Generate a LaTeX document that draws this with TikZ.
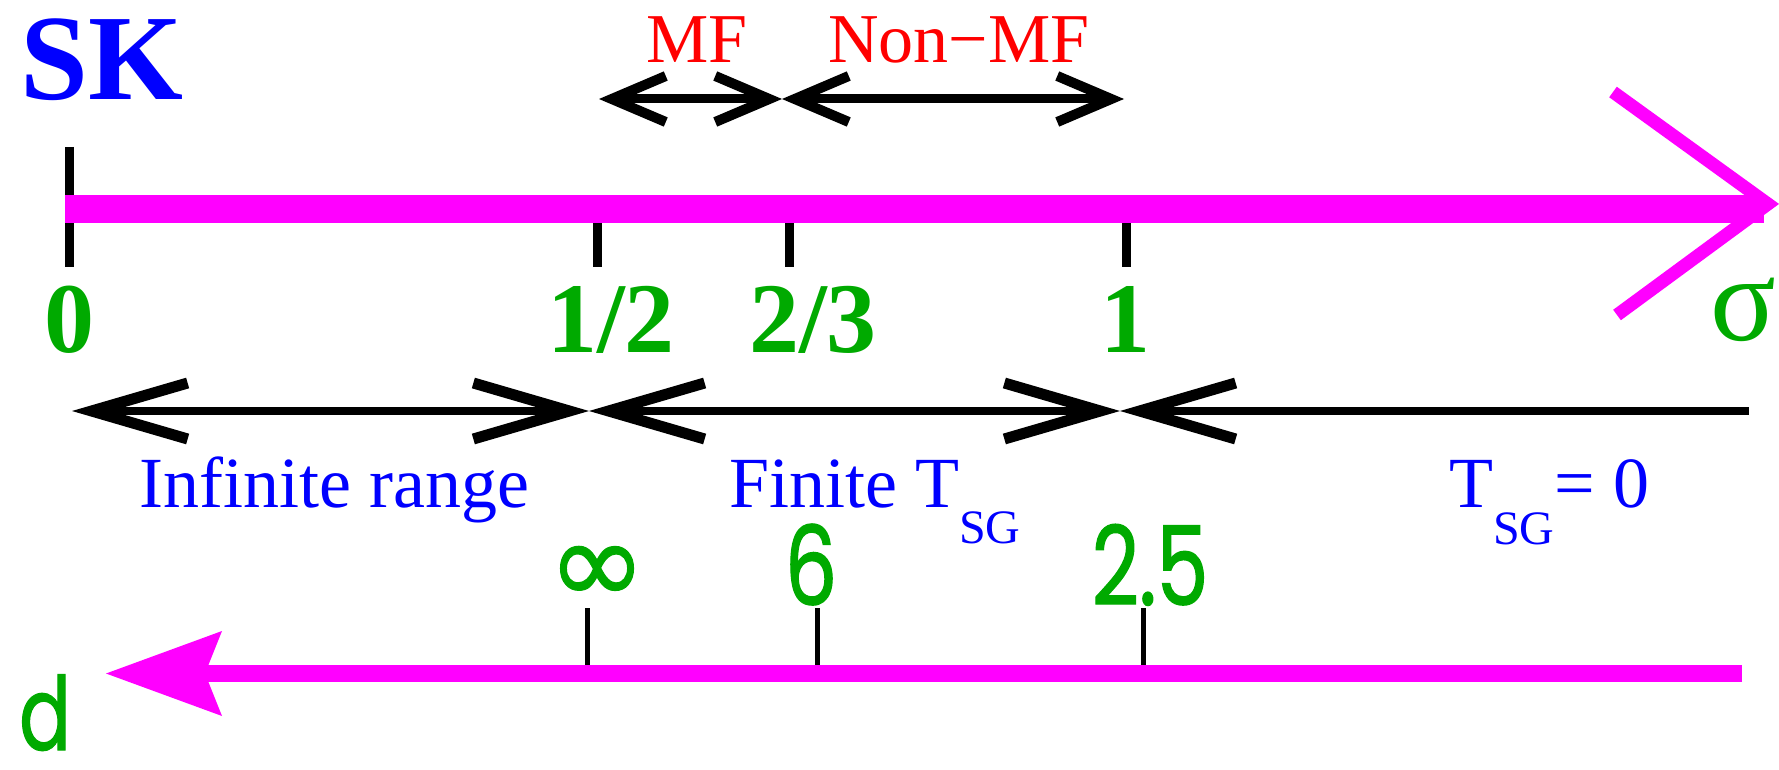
\documentclass[tikz,border=0pt]{standalone}
\usepackage{fontspec}
\setmainfont{Liberation Serif}
\newfontfamily\geosans[FakeStretch=0.75,FakeBold=1.1]{Poppins}
\newfontfamily\djv[FakeBold=1]{DejaVu Sans}
\usetikzlibrary{arrows.meta}
\definecolor{mag}{RGB}{255,0,255}
\definecolor{grn}{RGB}{0,170,0}
\definecolor{blu}{RGB}{0,0,255}
\definecolor{rd}{RGB}{255,0,0}
\newcommand{\fs}[1]{\fontsize{#1}{#1}\selectfont}
\tikzset{
  barbL/.tip={Straight Barb[length=96pt,width=56pt,line width=11pt]},
  barbS/.tip={Straight Barb[length=54pt,width=46pt,line width=10pt]},
  midline/.style={line width=8pt,black},
  topline/.style={line width=9pt,black},
  tickmark/.style={line width=9pt,black},
  dtick/.style={line width=5pt,black},
  sigmaaxis/.style={line width=28pt,mag},
  daxis/.style={line width=17pt,mag},
  val/.style={anchor=base,inner sep=0,text=grn,font=\bfseries\fs{100}},
  dval/.style={anchor=base,inner sep=0,text=grn,font=\geosans\fs{110}},
  region/.style={anchor=base,inner sep=0,text=blu,font=\fs{72}},
  mflabel/.style={anchor=base,inner sep=0,text=rd,font=\fs{70}},
}
\begin{document}
\begin{tikzpicture}[x=1pt,y=-1pt]
\useasboundingbox (0,0) rectangle (1779,770);
% coordinates
\coordinate (t0) at (69.5,147);
\coordinate (t0b) at (69.5,267);
\coordinate (th) at (597,209);
\coordinate (thb) at (597,267);
\coordinate (tt) at (789,209);
\coordinate (ttb) at (789,267);
\coordinate (t1) at (1126,209);
\coordinate (t1b) at (1126,267);
\coordinate (sStart) at (65,209);
\coordinate (sEnd) at (1764,209);
\coordinate (hA) at (1613,92);
\coordinate (hTip) at (1768,204);
\coordinate (hB) at (1617,315);
% ticks
\draw[tickmark] (t0) -- (t0b);
\draw[tickmark] (th) -- (thb);
\draw[tickmark] (tt) -- (ttb);
\draw[tickmark] (t1) -- (t1b);
% sigma axis
\draw[sigmaaxis] (sStart) -- (sEnd);
\draw[line width=13pt,mag,miter limit=10] (hA) -- (hTip) -- (hB);
% SK
\node[anchor=base west,inner sep=0,text=blu,font=\bfseries\fs{122}] (sk) at (20,100) {SK};
% MF arrows
\coordinate (mA) at (599,99);
\coordinate (mB) at (782,99);
\coordinate (mC) at (1124,99);
\draw[topline,barbS-barbS] (mB) -- (mA);
\draw[topline,barbS-barbS] (mB) -- (mC);
\node[mflabel] (mf) at (697,63) {MF};
\node[mflabel] (nmf) at (959,63) {Non−MF};
% sigma values
\node[val] (v0) at (69.5,352) {0};
\node[val] (vh) at (611,352) {1/2};
\node[val] (vt) at (813,352) {2/3};
\node[val] (v1) at (1125,352) {1};
\node[anchor=base,inner sep=0,text=grn,font=\fs{122}] (sig) at (1743,340) {σ};
% middle regime arrows
\coordinate (rL) at (72,411);
\coordinate (rA) at (589,411);
\coordinate (rB) at (1120,411);
\coordinate (rR) at (1749,411);
\draw[midline,barbL-barbL] (rA) -- (rL);
\draw[midline,barbL-barbL] (rA) -- (rB);
\draw[midline,barbL-] (rB) -- (rR);
\node[region] (inf) at (334,507) {Infinite range};
\node[region,anchor=base west] (fin) at (729,507) {Finite T\raisebox{-36pt}{\fs{48}SG}};
\node[region,anchor=base west] (zero) at (1449,507) {T\raisebox{-37pt}{\fs{48}SG}= 0};
% d axis
\coordinate (dS) at (205,673.5);
\coordinate (dE) at (1742,673.5);
\coordinate (dTip) at (106,673.5);
\coordinate (dU) at (222,631);
\coordinate (dD) at (222,716);
\coordinate (k1) at (587,608);
\coordinate (k1b) at (587,673);
\coordinate (k2) at (817,608);
\coordinate (k2b) at (817,673);
\coordinate (k3) at (1143,608);
\coordinate (k3b) at (1143,673);
\draw[dtick] (k1) -- (k1b);
\draw[dtick] (k2) -- (k2b);
\draw[dtick] (k3) -- (k3b);
\draw[daxis] (dE) -- (dS);
\fill[mag] (dTip) -- (dU) -- (dS) -- (dD) -- cycle;
\node[anchor=center,inner sep=0,text=grn,font=\djv\fs{118}] (dinf) at (597,575) {∞};
\node[dval] (d6) at (811,605) {6};
\node[dval] (d25) at (1150,605) {2.5};
\node[dval,anchor=base west,font=\geosans\fs{102}] (dlab) at (19,750) {d};
\end{tikzpicture}
\end{document}
